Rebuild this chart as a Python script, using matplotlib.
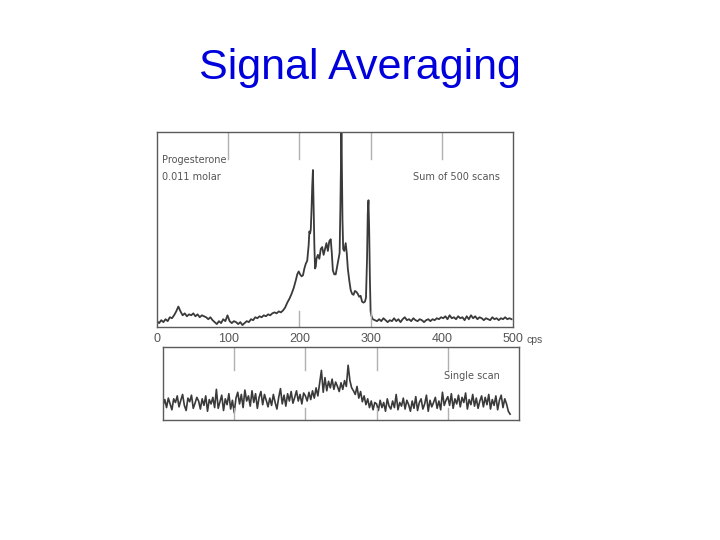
import matplotlib
matplotlib.use("Agg")
import matplotlib.pyplot as plt

# ---- data: sum of 500 scans (cps, relative intensity) ----
sum_cps = [0, 3, 6, 9, 12, 15, 18, 21, 24, 27, 30, 33, 36, 39, 42, 45, 48, 51, 54, 57,
           60, 63, 66, 69, 72, 75, 78, 81, 84, 87, 90, 93, 96, 99, 102, 105, 108, 111, 114, 117,
           120, 123, 126, 129, 132, 135, 138, 141, 144, 147, 150, 153, 156, 159, 162, 165, 168, 171, 174, 177,
           180, 183, 186, 189, 192, 195, 197, 199, 201, 203, 205, 207, 209, 211, 213, 214, 215, 216, 217, 218,
           219, 220, 221, 222, 223, 224, 226, 228, 230, 232, 234, 236, 238, 240, 242, 244, 245.5, 247, 249, 251,
           253, 255, 256.5, 257.5, 258.5, 259, 259.5, 260.5, 261.5, 263, 265, 266.5, 268, 270, 272, 274, 276, 278, 280, 282,
           284, 286, 288, 290, 292, 293.5, 295, 296, 297, 298, 299, 300, 301, 303, 306, 309, 312, 315, 318, 321,
           324, 327, 330, 333, 336, 339, 342, 345, 348, 351, 354, 357, 360, 363, 366, 369, 372, 375, 378, 381,
           384, 387, 390, 393, 396, 399, 402, 405, 408, 411, 414, 417, 420, 423, 426, 429, 432, 435, 438, 441,
           444, 447, 450, 453, 456, 459, 462, 465, 468, 471, 474, 477, 480, 483, 486, 489, 492, 495, 498]
sum_int = [3, 2, 3.5, 2.5, 4, 3, 5, 4.5, 6, 8, 10.5, 8, 6, 7, 5.5, 6.5, 6, 7, 5.5, 6.5,
           5, 6, 5.5, 5, 4, 5, 3.5, 2.5, 1.5, 3, 2, 4, 3, 6, 3, 2, 3, 2.5, 1.5, 2.5,
           1, 2, 3, 2.5, 4, 3.5, 5, 4.5, 5.5, 5, 6, 5.5, 6.5, 6, 7, 7.5, 7, 8, 7.5, 8.5,
           10, 12.5, 14.5, 17, 20, 24, 27, 28.5, 27, 26, 26.5, 30, 32.5, 34, 42, 49, 48, 50, 60, 72,
           80.5, 62, 42, 30, 31, 35, 37, 35, 40, 41, 37, 40, 43, 39, 44, 45, 38, 29, 27, 27,
           31, 35, 38, 60, 88, 100, 88, 55, 40, 39, 43, 38, 30, 24, 19, 17, 16.5, 18.5, 18, 17,
           15.5, 16, 13, 12.5, 13, 15, 35, 58, 65, 50, 25, 8, 6, 4, 3.5, 3, 4, 3, 4.5, 3.5,
           2.5, 3.5, 3, 4.5, 3, 4, 2.5, 4, 5, 3.5, 4, 3, 4.5, 3.5, 3, 4, 3.5, 2.5, 3.5, 4,
           3, 4, 3.5, 4.5, 4, 5, 4.5, 5.5, 4, 6, 4.5, 5, 4, 5.5, 4.5, 5, 3.5, 5.5, 4, 6,
           4.5, 5.5, 4, 5, 4.5, 3.5, 4.5, 4, 3.5, 5, 4, 4.5, 3.5, 4.5, 4, 5, 4, 4.5, 4]

# ---- data: single scan (cps step 2.5 starting at 0) ----
single_cps_step = 2.5
single_int = [20, 28, 17, 30, 22, 14, 29, 24, 33, 18, 27, 35, 20, 13, 30, 25, 34, 16, 23, 31,
              26, 15, 29, 20, 33, 12, 28, 22, 31, 17, 42, 16, 25, 34, 13, 29, 21, 36, 15, 27,
              10, 30, 38, 22, 35, 17, 41, 26, 33, 19, 40, 24, 36, 16, 31, 39, 21, 35, 27, 18,
              30, 20, 35, 24, 15, 31, 43, 22, 34, 19, 36, 26, 39, 23, 31, 40, 26, 35, 22, 37,
              33, 26, 38, 28, 40, 30, 44, 33, 50, 68, 38, 58, 40, 53, 44, 56, 42, 52, 46, 39,
              51, 42, 54, 46, 75, 54, 44, 40, 35, 46, 30, 39, 25, 33, 21, 29, 17, 26, 14, 24,
              22, 13, 27, 17, 24, 12, 29, 19, 15, 26, 17, 35, 14, 24, 19, 30, 15, 27, 21, 12,
              26, 16, 32, 13, 24, 29, 15, 22, 34, 12, 27, 18, 24, 31, 16, 26, 14, 38, 20, 27,
              32, 20, 36, 16, 29, 22, 34, 18, 31, 24, 37, 15, 28, 21, 35, 19, 30, 16, 26, 33,
              18, 31, 21, 35, 15, 28, 20, 33, 14, 27, 34, 17, 29, 22, 12, 8]
single_cps = [i * single_cps_step for i in range(len(single_int))]

tick_values = [0, 100, 200, 300, 400, 500]
tick_labels = ["0", "100", "200", "300", "400", "500"]

W, H = 720, 540
fig = plt.figure(figsize=(7.2, 5.4), dpi=100)
fig.patch.set_facecolor("white")

def fx(px):
    return px / W

def fy(py):
    return 1 - py / H

line_col = "#3a3a3a"
frame_col = "#5a5a5a"
grid_col = "#b0b0b0"
txt_col = "#555555"

# title
fig.text(0.5, fy(79), "Signal Averaging", ha="center", va="baseline",
         fontsize=31, color="#0000DD", family="Liberation Sans")

# ---- top panel ----
ax1 = fig.add_axes([fx(157), fy(327), fx(513 - 157), (327 - 132) / H])
ax1.plot(sum_cps, sum_int, color=line_col, lw=1.3)
ax1.set_xlim(0, 500)
ax1.set_ylim(0, 100)
for s in ax1.spines.values():
    s.set_color(frame_col)
    s.set_linewidth(1.0)
ax1.set_yticks([])
ax1.set_xticks(tick_values)
ax1.set_xticklabels(tick_labels)
ax1.tick_params(axis="x", length=0, pad=4, labelsize=9, labelcolor=txt_col)
for lab in ax1.get_xticklabels():
    lab.set_family("Liberation Sans")
ax1.annotate("cps", xy=(500, 0), xycoords=("data", "axes fraction"),
             xytext=(10, -6), textcoords="offset points", ha="left", va="top",
             fontsize=7.5, color=txt_col, family="Liberation Sans")
for v in tick_values[1:-1]:
    ax1.axvline(v, ymin=0.86, ymax=1.0, color=grid_col, lw=1.0)
for v in [200, 300]:
    ax1.axvline(v, ymin=0.0, ymax=0.08, color=grid_col, lw=1.0)
ax1.text(0.015, 0.88, "Progesterone\n0.011 molar", transform=ax1.transAxes, ha="left", va="top",
         fontsize=7, color=txt_col, linespacing=1.8, family="DejaVu Sans")
ax1.text(0.72, 0.77, "Sum of 500 scans", transform=ax1.transAxes, ha="left", va="center",
         fontsize=7, color=txt_col, family="DejaVu Sans")

# ---- bottom panel ----
ax2 = fig.add_axes([fx(163), fy(420), fx(519 - 163), (420 - 347) / H])
ax2.plot(single_cps, single_int, color=line_col, lw=1.2)
ax2.set_xlim(0, 500)
ax2.set_ylim(0, 100)
ax2.set_xticks([])
ax2.set_yticks([])
for s in ax2.spines.values():
    s.set_color(frame_col)
    s.set_linewidth(1.0)
for v in tick_values[1:-1]:
    ax2.axvline(v, ymin=0.69, ymax=1.0, color=grid_col, lw=1.0)
    ax2.axvline(v, ymin=0.0, ymax=0.17, color=grid_col, lw=1.0)
ax2.text(0.788, 0.6, "Single scan", transform=ax2.transAxes, ha="left", va="center",
         fontsize=7, color=txt_col, family="DejaVu Sans")

fig.savefig("out.png", dpi=100, facecolor="white")
